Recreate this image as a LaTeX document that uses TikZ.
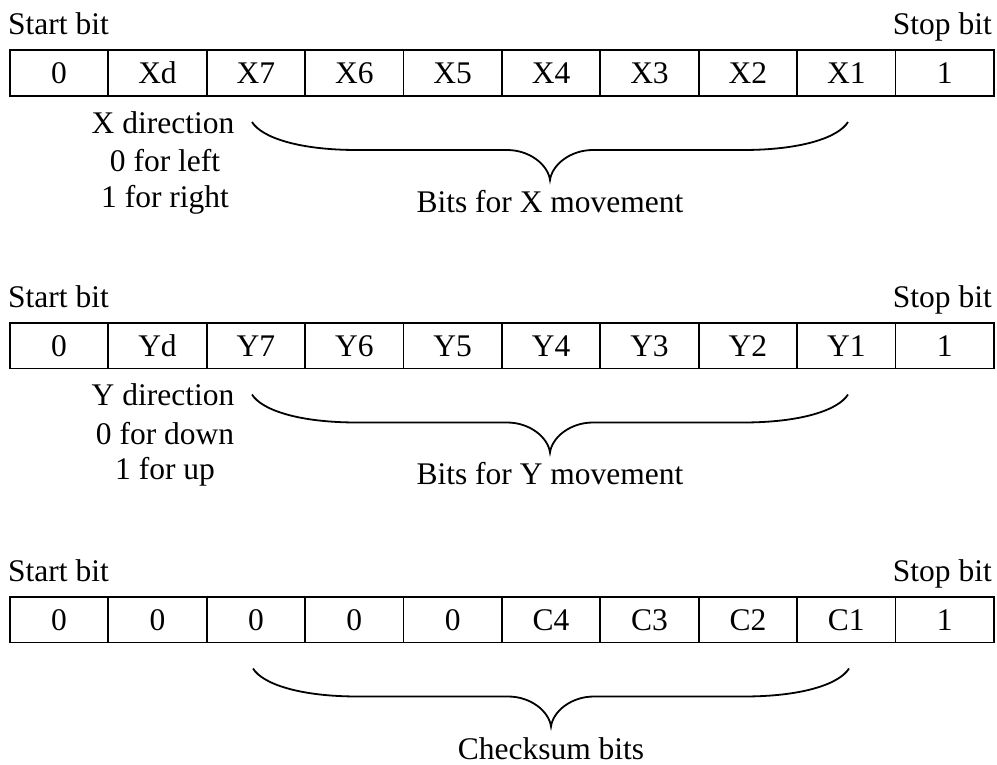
\documentclass[tikz,border=0pt]{standalone}
\usepackage{fontspec}
\setmainfont{Liberation Serif}
\begin{document}
\begin{tikzpicture}[x=1pt,y=-1pt]
\tikzset{
  txt/.style={inner sep=0pt, font=\fontsize{31.5}{37}\selectfont},
  cell/.style={txt, draw, line width=1.8pt, minimum width=98.4pt, minimum height=45.5pt,
    text height=21pt, text depth=0pt, anchor=north west},
  bracestroke/.style={line width=1.8pt},
  pics/curly/.style={code={
    \draw[bracestroke] (-298,-28) .. controls (-288,-12) and (-250,0) .. (-193,0) -- (-43,0)
      .. controls (-20,0) and (-2,15) .. (0,30)
      .. controls (2,15) and (20,0) .. (43,0) -- (193,0)
      .. controls (250,0) and (288,-12) .. (298,-28);
  }}
}
\useasboundingbox (0,0) rectangle (997,765);
\newcommand\bitrow[3]{%
  \foreach \t [count=\i] in {#3} {
    \node[cell] (#1c\i) at ({9+(\i-1)*98.4},#2) {\t};
  }%
}
% row 1
\node[txt, anchor=base west] (s1) at (8,35) {Start bit};
\node[txt, anchor=base east] (e1) at (992,35) {Stop bit};
\bitrow{a}{49.5}{0,Xd,X7,X6,X5,X4,X3,X2,X1,1}
\node[txt, anchor=base] (xd1) at (163,134) {X direction};
\node[txt, anchor=base] (xd2) at (165,172) {0 for left};
\node[txt, anchor=base] (xd3) at (165,207.5) {1 for right};
\pic at (550,150) {curly};
\node[txt, anchor=base] (xb) at (550,212) {Bits for X movement};
% row 2
\node[txt, anchor=base west] (s2) at (8,307.5) {Start bit};
\node[txt, anchor=base east] (e2) at (992,307.5) {Stop bit};
\bitrow{b}{322}{0,Yd,Y7,Y6,Y5,Y4,Y3,Y2,Y1,1}
\node[txt, anchor=base] (yd1) at (163,405.5) {Y direction};
\node[txt, anchor=base] (yd2) at (165,444) {0 for down};
\node[txt, anchor=base] (yd3) at (165,479.5) {1 for up};
\pic at (550,422.5) {curly};
\node[txt, anchor=base] (yb) at (550,484.5) {Bits for Y movement};
% row 3
\node[txt, anchor=base west] (s3) at (8,581) {Start bit};
\node[txt, anchor=base east] (e3) at (992,581) {Stop bit};
\bitrow{c}{596}{0,0,0,0,0,C4,C3,C2,C1,1}
\pic at (551,696.5) {curly};
\node[txt, anchor=base] (cb) at (551,759) {Checksum bits};
\end{tikzpicture}
\end{document}
